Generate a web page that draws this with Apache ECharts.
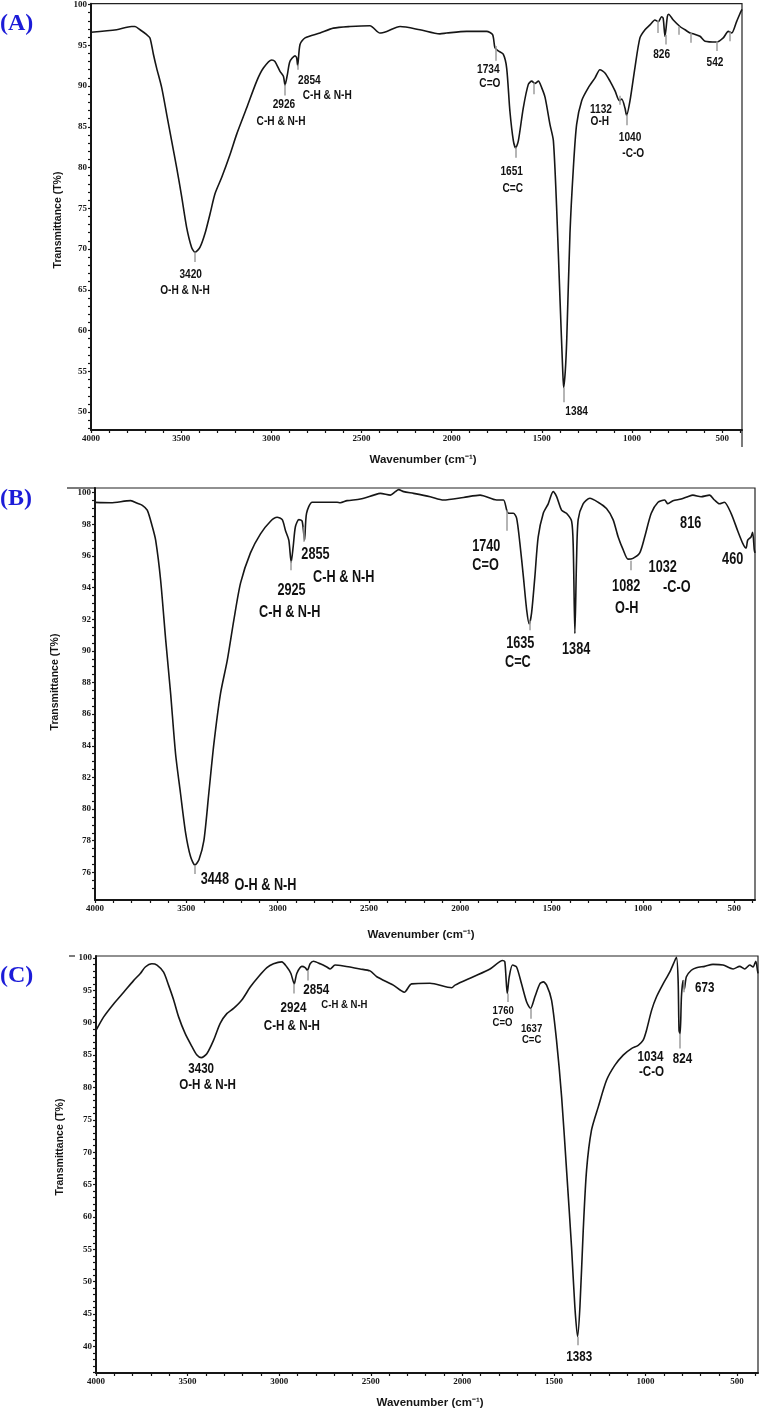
<!DOCTYPE html>
<html>
<head>
<meta charset="utf-8">
<script src="https://cdn.jsdelivr.net/npm/echarts@6/dist/echarts.min.js"></script>
<style>
  html, body { margin: 0; padding: 0; background: #fff; }
  #chart { width: 761px; height: 1417px; }
</style>
</head>
<body>
<div id="chart"></div>
<script>
// ---- spectrum (A) ----
const wnA = [4000, 3858, 3775, 3756, 3728, 3691, 3673, 3654, 3636, 3608, 3580, 3553, 3525, 3497, 3470, 3442, 3423, 3396, 3368, 3340, 3312, 3275, 3229, 3192, 3137, 3081, 3044, 2998, 2980, 2952, 2933, 2924, 2911, 2897, 2869, 2860, 2854, 2841, 2813, 2730, 2656, 2564, 2453,
  2398, 2360, 2286, 2176, 2065, 2028, 1917, 1806, 1773, 1760, 1741, 1714, 1695, 1677, 1658, 1645, 1630, 1603, 1575, 1556, 1538, 1519, 1501, 1482, 1455, 1436, 1418, 1399, 1384, 1379, 1370, 1362, 1344, 1325, 1307, 1279, 1242, 1205, 1178, 1150, 1122, 1094, 1070, 1057, 1039, 1030, 1011, 984, 956, 928, 900, 873, 854, 836, 827, 817, 804, 797, 771, 734, 706, 678, 660, 623, 595, 530, 494, 466, 447, 420, 401, 390];
const tA = [96.6, 96.9, 97.3, 97.3, 96.9, 96.3, 95.9, 93.9, 92.2, 89.8, 86.5, 83.3, 80.0, 76.4, 72.7, 70.2, 69.6, 70.2, 71.9, 74.3, 76.8, 78.8, 81.6, 84.1, 87.3, 90.6, 92.2, 93.2, 93.0, 91.8, 91.2, 90.1, 91.4, 93.0, 93.7, 93.5, 92.5, 95.1, 95.9, 96.5, 97.1, 97.3, 97.4,
  96.5, 96.7, 97.3, 96.9, 96.4, 96.5, 96.7, 96.7, 96.3, 94.7, 94.3, 93.9, 92.2, 86.9, 83.3, 82.4, 83.3, 87.3, 90.2, 90.6, 90.3, 90.6, 89.8, 88.6, 85.3, 83.3, 75.1, 63.7, 55.0, 53.0, 55.0, 58.8, 71.9, 80.0, 85.3, 88.2, 89.8, 91.0, 92.0, 91.6, 90.6, 89.4, 88.2, 88.4, 87.3, 86.4, 88.2, 92.2, 95.9, 96.9, 97.5, 98.1, 97.9, 98.5, 98.3, 96.1, 98.5, 98.8, 98.1, 97.3, 96.9, 96.5, 96.4, 96.1, 95.5, 95.4, 95.9, 96.7, 96.5, 97.9, 98.9, 99.4];
const marksA = [[3423, 69.6, 68.4], [2924, 90.2, 88.85], [2854, 92.6, 92.0], [1755, 94.9, 93.1], [1645, 82.5, 81.2], [1543, 90.4, 89.0], [1379, 53.0, 51.2], [1070, 88.8, 87.7], [1030, 86.5, 85.2], [858, 98.1, 96.5], [815, 96.3, 95.1], [739, 97.3, 96.3], [674, 96.5, 95.3], [530, 95.5, 94.3], [460, 96.7, 95.5]];
const notesA = [[3447, 66.9, '3420'], [3479, 65.0, 'O-H & N-H'], [2930, 87.8, '2926'], [2946, 85.7, 'C-H & N-H'], [2789, 90.7, '2854'], [2690, 88.9, 'C-H & N-H'], [1797, 92.1, '1734'], [1788, 90.3, 'C=O'], [1667, 79.5, '1651'], [1661, 77.5, 'C=C'], [1307, 50.1, '1384'], [1172, 87.2, '1132'], [1178, 85.7, 'O-H'], [1011, 83.7, '1040'], [993, 81.8, '-C-O'], [836, 93.9, '826'], [540, 92.9, '542']];
const smallNotesA = [];
const yTicksA = [50, 55, 60, 65, 70, 75, 80, 85, 90, 95, 100];

// ---- spectrum (B) ----
const wnB = [4000, 3914, 3805, 3768, 3741, 3714, 3686, 3668, 3641, 3613, 3586, 3559, 3532, 3504, 3477, 3453, 3431, 3404, 3377, 3349, 3313, 3276, 3240, 3203, 3149, 3094, 3039, 3003, 2975, 2957, 2939, 2926, 2915, 2903, 2884, 2866, 2853, 2842, 2811, 2748, 2675, 2657, 2620, 2547, 2474, 2438, 2383, 2356, 2338, 2310, 2256, 2165, 2092, 1983, 1892, 1801, 1764, 1746, 1737, 1710, 1692, 1674, 1655, 1637, 1623, 1610, 1592, 1574, 1546, 1519, 1492, 1473, 1446, 1419, 1391, 1382, 1373, 1364, 1355, 1328, 1291, 1246, 1200, 1164, 1136, 1109, 1082, 1055, 1018, 991, 955, 918, 882, 864, 836, 791, 755, 727, 682, 636, 609, 582, 555, 518, 482, 454, 436, 427, 409, 400, 391, 387];
const tB = [99.39, 99.37, 99.5, 99.33, 99.2, 98.9, 97.85, 97.0, 94.5, 90.7, 87.3, 83.5, 81.0, 78.5, 77.0, 76.46, 76.8, 78.0, 81.0, 84.15, 87.3, 89.4, 91.95, 94.3, 96.2, 97.4, 98.2, 98.45, 98.3, 97.6, 97.0, 95.6, 96.6, 97.85, 98.3, 98.2, 97.0, 98.7, 99.4, 99.4, 99.4, 99.37, 99.5, 99.6, 99.85, 99.96, 99.85, 100.07, 100.2, 100.07, 99.96, 99.75, 99.54, 99.7, 99.85, 99.54, 99.54, 98.9, 98.7, 98.7, 98.4, 96.8, 94.7, 92.6, 91.7, 92.4, 94.7, 97.2, 98.7, 99.3, 100.07, 99.75, 98.9, 98.7, 98.2, 96.6, 91.1, 95.7, 98.3, 99.3, 99.65, 99.4, 99.0, 98.3, 97.2, 96.4, 95.8, 95.85, 96.2, 97.2, 98.7, 99.4, 99.54, 99.3, 99.5, 99.6, 99.75, 99.85, 99.75, 99.85, 99.54, 99.3, 99.4, 98.7, 97.6, 96.8, 96.5, 97.0, 97.2, 97.5, 96.4, 96.2];
const marksB = [[3453, 76.46, 75.9], [2926, 95.7, 95.1], [2857, 97.85, 96.9], [1745, 98.9, 97.6], [1621, 91.9, 91.3], [1067, 95.7, 95.1]];
const notesB = [[3344, 75.56, '3448'], [3067, 75.2, 'O-H & N-H'], [2924, 93.8, '2925'], [2934, 92.4, 'C-H & N-H'], [2793, 96.1, '2855'], [2638, 94.65, 'C-H & N-H'], [1858, 96.6, '1740'], [1862, 95.4, 'C=O'], [1672, 90.5, '1635'], [1685, 89.25, 'C=C'], [1366, 90.1, '1384'], [1092, 94.1, '1082'], [1089, 92.7, 'O-H'], [892, 95.3, '1032'], [815, 94.0, '-C-O'], [739, 98.06, '816'], [509, 95.8, '460']];
const smallNotesB = [];
const yTicksB = [76, 78, 80, 82, 84, 86, 88, 90, 92, 94, 96, 98, 100];

// ---- spectrum (C) ----
const wnC = [4000, 3958, 3904, 3849, 3795, 3758, 3731, 3695, 3667, 3631, 3604, 3576, 3549, 3513, 3476, 3449, 3426, 3395, 3358, 3322, 3286, 3249, 3204, 3158, 3113, 3067, 3031, 2986, 2958, 2936, 2918, 2904, 2876, 2858, 2846, 2831, 2813, 2776, 2740, 2722, 2695, 2649, 2558, 2504, 2467, 2377, 2317, 2277, 2177, 2058, 2040, 1940, 1849, 1780, 1768, 1755, 1744, 1726, 1704, 1677, 1649, 1628, 1604, 1577, 1558, 1540, 1513, 1486, 1458, 1431, 1404, 1386, 1371, 1358, 1340, 1322, 1295, 1258, 1213, 1168, 1122, 1077, 1040, 1013, 995, 967, 940, 904, 868, 840, 831, 822, 817, 811, 804, 795, 788, 777, 750, 722, 677, 632, 577, 522, 486, 459, 431, 413, 398, 389, 386];
const tC = [88.8, 90.9, 92.9, 94.7, 96.5, 97.6, 98.6, 99.1, 98.9, 97.8, 95.8, 93.5, 90.9, 88.3, 86.3, 85.0, 84.6, 85.2, 87.3, 89.9, 91.4, 92.2, 93.5, 95.5, 97.1, 98.5, 99.1, 99.4, 98.6, 97.6, 96.0, 97.6, 98.7, 98.5, 98.1, 99.1, 99.5, 99.1, 98.6, 98.3, 98.9, 98.75, 98.3, 98.0, 97.1, 95.8, 94.7, 96.0, 96.1, 95.4, 95.8, 97.1, 98.3, 99.6, 99.4, 94.5, 97.1, 98.9, 98.6, 96.0, 93.2, 92.2, 94.0, 96.0, 96.3, 95.8, 93.5, 87.3, 78.5, 67.2, 55.4, 46.2, 41.5, 46.2, 58.0, 67.2, 73.4, 77.0, 81.1, 83.4, 85.0, 86.0, 86.5, 87.3, 88.8, 91.9, 94.0, 96.0, 97.8, 99.6, 100.1, 96.5, 88.8, 88.3, 94.0, 96.5, 95.2, 97.1, 98.1, 98.5, 98.7, 99.0, 98.9, 98.3, 98.7, 98.3, 98.9, 98.6, 99.5, 98.1, 97.6];
const marksC = [[2918, 96.0, 94.5], [2846, 98.1, 96.5], [1751, 94.5, 93.2], [1628, 92.2, 90.6], [1371, 41.5, 40.2], [811, 88.3, 86.0], [791, 96.5, 94.7]];
const notesC = [[3426, 82.8, '3430'], [3391, 80.3, 'O-H & N-H'], [2922, 92.2, '2924'], [2931, 89.5, 'C-H & N-H'], [2798, 95.1, '2854'], [1362, 38.3, '1383'], [973, 84.7, '1034'], [967, 82.4, '-C-O'], [798, 84.4, '824'], [677, 95.3, '673']];
const smallNotesC = [[2644, 92.7, 'C-H & N-H'], [1777, 91.8, '1760'], [1781, 90.0, 'C=O'], [1622, 89.0, '1637'], [1622, 87.3, 'C=C']];
const yTicksC = [40, 45, 50, 55, 60, 65, 70, 75, 80, 85, 90, 95, 100];

const xTicks = [500, 1000, 1500, 2000, 2500, 3000, 3500, 4000];

const SANS = "'Liberation Sans', Arial, sans-serif";
const SERIF = "'Liberation Serif', 'Times New Roman', serif";
const INK = '#161616';

function steps(from, to, step) {
  const out = [];
  for (let v = from; v <= to + 1e-9; v += step) out.push(Math.round(v * 100) / 100);
  return out;
}

const panels = [
  { tag: '(A)', wn: wnA, t: tA, marks: marksA, notes: notesA, small: smallNotesA, yTicks: yTicksA,
    yMinor: 1, yMin: 47.8, yMax: 100.1, xMin: 390, noteSize: 13.5, smallSize: 12, squeeze: 0.75,
    grid: { left: 91, top: 3, width: 651, height: 427 }, tagY: 25, yTitle: [58, 220], xTitle: [423, 460] },
  { tag: '(B)', wn: wnB, t: tB, marks: marksB, notes: notesB, small: smallNotesB, yTicks: yTicksB,
    yMinor: 0.5, yMin: 74.25, yMax: 100.3, xMin: 387, noteSize: 16.5, smallSize: 14, squeeze: 0.77,
    grid: { left: 95, top: 488, width: 660, height: 412 }, tagY: 500, yTitle: [55, 682], xTitle: [421, 935] },
  { tag: '(C)', wn: wnC, t: tC, marks: marksC, notes: notesC, small: smallNotesC, yTicks: yTicksC,
    yMinor: 1, yMin: 35.9, yMax: 100.3, xMin: 386, noteSize: 14, smallSize: 11.5, squeeze: 0.83,
    grid: { left: 96, top: 956, width: 662, height: 417 }, tagY: 977, yTitle: [60, 1147], xTitle: [430, 1403] }
];

const chart = echarts.init(document.getElementById('chart'), null, { renderer: 'canvas' });

const grids = [], xAxes = [], yAxes = [], series = [], graphics = [];

panels.forEach((p, i) => {
  grids.push(Object.assign({ show: true, borderColor: '#222', borderWidth: 1.2, backgroundColor: 'transparent' }, p.grid));

  xAxes.push({
    gridIndex: i, type: 'value', inverse: true, min: p.xMin, max: 4000,
    axisLine: { show: true, onZero: false, lineStyle: { color: INK, width: 2 } },
    axisTick: { show: true, customValues: steps(400, 4000, 100), length: 3, lineStyle: { color: INK, width: 1.2 } },
    axisLabel: { customValues: xTicks, formatter: v => String(v), fontSize: 9, fontWeight: 'bold', fontFamily: SERIF, color: INK, margin: 4 },
    splitLine: { show: false }
  });

  yAxes.push({
    gridIndex: i, type: 'value', min: p.yMin, max: p.yMax,
    axisLine: { show: true, onZero: false, lineStyle: { color: INK, width: 2 } },
    axisTick: { show: true, customValues: steps(Math.ceil(p.yMin), 100, p.yMinor), length: 3, lineStyle: { color: INK, width: 1.2 } },
    axisLabel: { customValues: p.yTicks, formatter: v => String(v), fontSize: 9, fontWeight: 'bold', fontFamily: SERIF, color: INK, margin: 4 },
    splitLine: { show: false }
  });

  series.push({
    type: 'line', xAxisIndex: i, yAxisIndex: i,
    data: p.wn.map((w, k) => [w, p.t[k]]),
    showSymbol: false, smooth: 0.25,
    lineStyle: { color: INK, width: 1.6, join: 'round' },
    silent: true, animation: false,
    markLine: {
      silent: true, symbol: ['none', 'none'], animation: false,
      label: { show: false },
      lineStyle: { color: '#9c9c9c', width: 1.5, type: 'solid' },
      data: p.marks.map(m => [{ coord: [m[0], m[1]] }, { coord: [m[0], m[2]] }])
    }
  });

  // peak annotations, placed in data coordinates and drawn a little condensed
  [[p.notes, p.noteSize], [p.small, p.smallSize]].forEach(([list, size]) => {
    if (!list.length) return;
    series.push({
      type: 'custom', xAxisIndex: i, yAxisIndex: i, clip: false, silent: true, animation: false,
      data: list.map(n => [n[0], n[1]]),
      renderItem: (params, api) => {
        const pt = api.coord([api.value(0), api.value(1)]);
        return {
          type: 'text', x: pt[0], y: pt[1], scaleX: p.squeeze, scaleY: 1,
          style: {
            text: list[params.dataIndex][2], font: 'bold ' + size + 'px ' + SANS,
            fill: '#111', align: 'center', verticalAlign: 'middle'
          }
        };
      }
    });
  });

  graphics.push({
    type: 'text', left: 0, top: p.tagY - 13,
    style: { text: p.tag, font: 'bold 24px ' + SERIF, fill: '#1c1cd8' }
  });
  graphics.push({
    type: 'text', x: p.yTitle[0], y: p.yTitle[1], rotation: Math.PI / 2,
    style: { text: 'Transmittance (T%)', font: 'bold 10.5px ' + SANS, fill: INK, align: 'center', verticalAlign: 'middle' }
  });
  graphics.push({
    type: 'text', x: p.xTitle[0], y: p.xTitle[1],
    style: { text: 'Wavenumber (cm\u207B\u00B9)', font: 'bold 11.5px ' + SANS, fill: INK, align: 'center', verticalAlign: 'middle' }
  });
});

// frame stubs that run past the plot boxes
graphics.push({ type: 'line', shape: { x1: 742, y1: 430, x2: 742, y2: 447 }, style: { stroke: '#222', lineWidth: 1.2 } });
graphics.push({ type: 'line', shape: { x1: 67, y1: 488, x2: 95, y2: 488 }, style: { stroke: '#222', lineWidth: 1.2 } });
graphics.push({ type: 'line', shape: { x1: 69, y1: 956, x2: 75, y2: 956 }, style: { stroke: '#222', lineWidth: 1.2 } });

chart.setOption({
  animation: false,
  backgroundColor: '#fff',
  grid: grids,
  xAxis: xAxes,
  yAxis: yAxes,
  series: series,
  graphic: graphics
});
</script>
</body>
</html>
